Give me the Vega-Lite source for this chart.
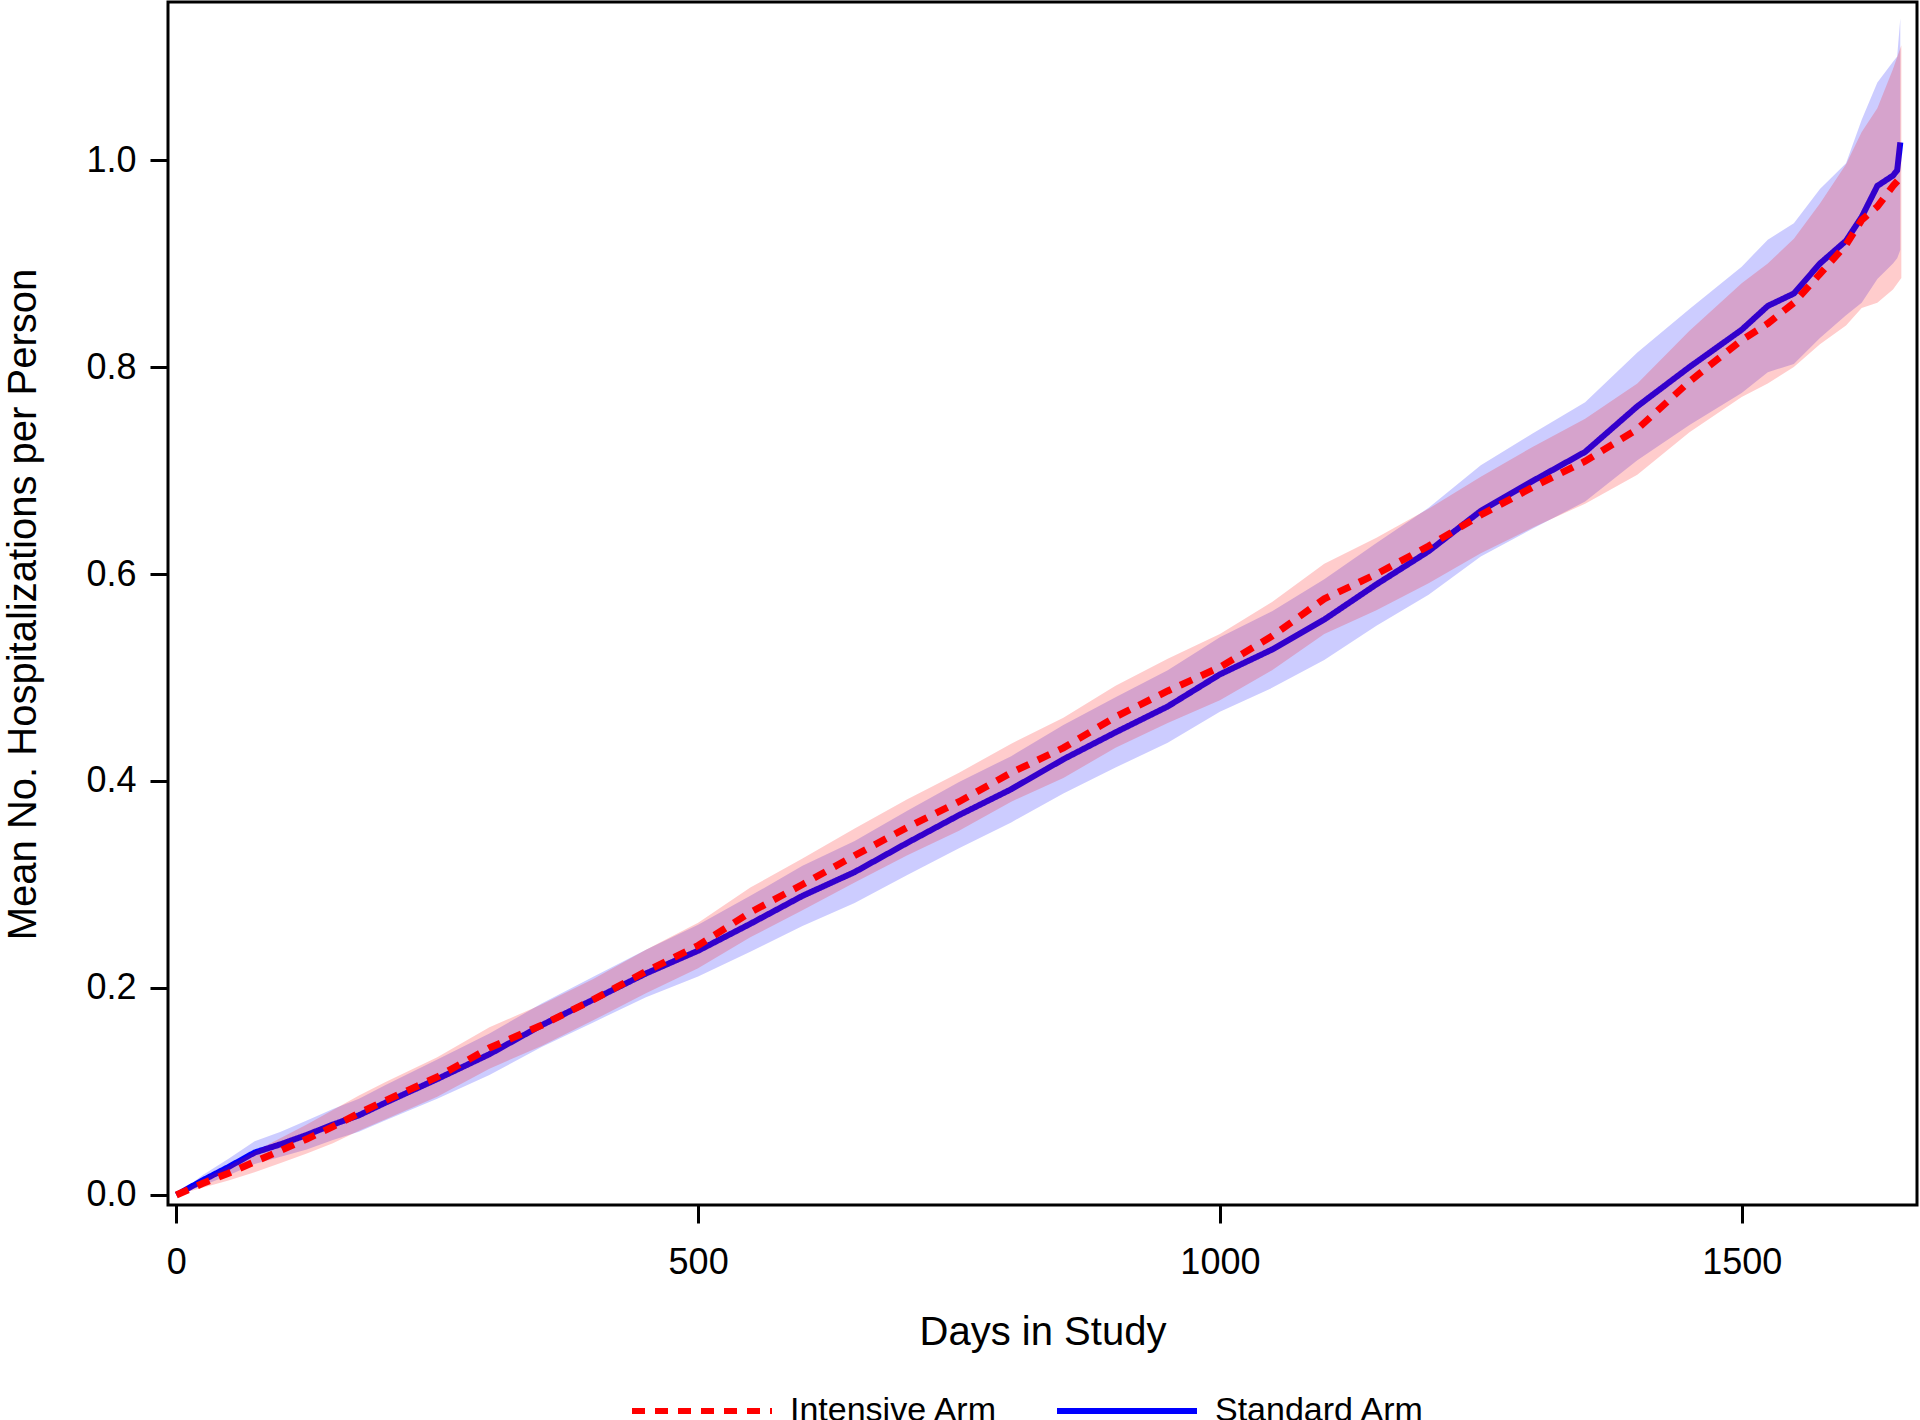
{
  "$schema": "https://vega.github.io/schema/vega-lite/v6.json",
  "width": 1749,
  "height": 1203,
  "autosize": {"type": "none"},
  "padding": {"left": 168, "top": 2, "right": 3, "bottom": 215},
  "background": "white",
  "config": {
    "font": "Liberation Sans",
    "view": {"stroke": "black", "strokeWidth": 3},
    "axis": {"labelFont": "Liberation Sans", "titleFont": "Liberation Sans", "labelColor": "black", "titleColor": "black", "tickColor": "black"},
    "legend": {"labelFont": "Liberation Sans", "labelColor": "black"}
  },
  "data": {"values": [
    {"arm": "Standard Arm", "day": 0, "mean": 0, "lo": 0, "hi": 0},
    {"arm": "Standard Arm", "day": 25, "mean": 0.014, "lo": 0.009, "hi": 0.019},
    {"arm": "Standard Arm", "day": 50, "mean": 0.027, "lo": 0.019, "hi": 0.035},
    {"arm": "Standard Arm", "day": 75, "mean": 0.041, "lo": 0.030, "hi": 0.052},
    {"arm": "Standard Arm", "day": 100, "mean": 0.049, "lo": 0.037, "hi": 0.061},
    {"arm": "Standard Arm", "day": 125, "mean": 0.058, "lo": 0.044, "hi": 0.072},
    {"arm": "Standard Arm", "day": 150, "mean": 0.068, "lo": 0.053, "hi": 0.083},
    {"arm": "Standard Arm", "day": 175, "mean": 0.077, "lo": 0.061, "hi": 0.093},
    {"arm": "Standard Arm", "day": 200, "mean": 0.089, "lo": 0.072, "hi": 0.106},
    {"arm": "Standard Arm", "day": 250, "mean": 0.112, "lo": 0.093, "hi": 0.131},
    {"arm": "Standard Arm", "day": 300, "mean": 0.136, "lo": 0.116, "hi": 0.156},
    {"arm": "Standard Arm", "day": 350, "mean": 0.164, "lo": 0.143, "hi": 0.185},
    {"arm": "Standard Arm", "day": 400, "mean": 0.189, "lo": 0.167, "hi": 0.211},
    {"arm": "Standard Arm", "day": 450, "mean": 0.214, "lo": 0.191, "hi": 0.237},
    {"arm": "Standard Arm", "day": 500, "mean": 0.236, "lo": 0.211, "hi": 0.261},
    {"arm": "Standard Arm", "day": 550, "mean": 0.262, "lo": 0.235, "hi": 0.289},
    {"arm": "Standard Arm", "day": 600, "mean": 0.289, "lo": 0.260, "hi": 0.318},
    {"arm": "Standard Arm", "day": 650, "mean": 0.312, "lo": 0.282, "hi": 0.342},
    {"arm": "Standard Arm", "day": 700, "mean": 0.340, "lo": 0.309, "hi": 0.371},
    {"arm": "Standard Arm", "day": 750, "mean": 0.367, "lo": 0.335, "hi": 0.399},
    {"arm": "Standard Arm", "day": 800, "mean": 0.392, "lo": 0.360, "hi": 0.424},
    {"arm": "Standard Arm", "day": 850, "mean": 0.421, "lo": 0.388, "hi": 0.454},
    {"arm": "Standard Arm", "day": 900, "mean": 0.447, "lo": 0.413, "hi": 0.481},
    {"arm": "Standard Arm", "day": 950, "mean": 0.472, "lo": 0.437, "hi": 0.507},
    {"arm": "Standard Arm", "day": 1000, "mean": 0.503, "lo": 0.467, "hi": 0.539},
    {"arm": "Standard Arm", "day": 1050, "mean": 0.527, "lo": 0.490, "hi": 0.564},
    {"arm": "Standard Arm", "day": 1100, "mean": 0.556, "lo": 0.517, "hi": 0.595},
    {"arm": "Standard Arm", "day": 1150, "mean": 0.590, "lo": 0.550, "hi": 0.630},
    {"arm": "Standard Arm", "day": 1200, "mean": 0.622, "lo": 0.580, "hi": 0.664},
    {"arm": "Standard Arm", "day": 1250, "mean": 0.661, "lo": 0.617, "hi": 0.705},
    {"arm": "Standard Arm", "day": 1300, "mean": 0.690, "lo": 0.644, "hi": 0.736},
    {"arm": "Standard Arm", "day": 1350, "mean": 0.718, "lo": 0.670, "hi": 0.766},
    {"arm": "Standard Arm", "day": 1400, "mean": 0.762, "lo": 0.710, "hi": 0.814},
    {"arm": "Standard Arm", "day": 1450, "mean": 0.800, "lo": 0.744, "hi": 0.856},
    {"arm": "Standard Arm", "day": 1500, "mean": 0.836, "lo": 0.775, "hi": 0.897},
    {"arm": "Standard Arm", "day": 1525, "mean": 0.859, "lo": 0.795, "hi": 0.923},
    {"arm": "Standard Arm", "day": 1550, "mean": 0.871, "lo": 0.803, "hi": 0.939},
    {"arm": "Standard Arm", "day": 1575, "mean": 0.900, "lo": 0.828, "hi": 0.972},
    {"arm": "Standard Arm", "day": 1600, "mean": 0.922, "lo": 0.850, "hi": 0.997},
    {"arm": "Standard Arm", "day": 1615, "mean": 0.945, "lo": 0.862, "hi": 1.039},
    {"arm": "Standard Arm", "day": 1630, "mean": 0.975, "lo": 0.885, "hi": 1.075},
    {"arm": "Standard Arm", "day": 1645, "mean": 0.985, "lo": 0.900, "hi": 1.095},
    {"arm": "Standard Arm", "day": 1649, "mean": 0.990, "lo": 0.905, "hi": 1.100},
    {"arm": "Standard Arm", "day": 1652, "mean": 1.017, "lo": 0.913, "hi": 1.137},
    {"arm": "Intensive Arm", "day": 0, "mean": 0, "lo": 0, "hi": 0},
    {"arm": "Intensive Arm", "day": 25, "mean": 0.011, "lo": 0.007, "hi": 0.015},
    {"arm": "Intensive Arm", "day": 50, "mean": 0.021, "lo": 0.014, "hi": 0.028},
    {"arm": "Intensive Arm", "day": 75, "mean": 0.032, "lo": 0.022, "hi": 0.042},
    {"arm": "Intensive Arm", "day": 100, "mean": 0.043, "lo": 0.031, "hi": 0.055},
    {"arm": "Intensive Arm", "day": 125, "mean": 0.054, "lo": 0.040, "hi": 0.068},
    {"arm": "Intensive Arm", "day": 150, "mean": 0.066, "lo": 0.050, "hi": 0.082},
    {"arm": "Intensive Arm", "day": 175, "mean": 0.079, "lo": 0.062, "hi": 0.096},
    {"arm": "Intensive Arm", "day": 200, "mean": 0.091, "lo": 0.073, "hi": 0.109},
    {"arm": "Intensive Arm", "day": 250, "mean": 0.114, "lo": 0.095, "hi": 0.133},
    {"arm": "Intensive Arm", "day": 300, "mean": 0.142, "lo": 0.122, "hi": 0.162},
    {"arm": "Intensive Arm", "day": 350, "mean": 0.164, "lo": 0.144, "hi": 0.184},
    {"arm": "Intensive Arm", "day": 400, "mean": 0.189, "lo": 0.169, "hi": 0.209},
    {"arm": "Intensive Arm", "day": 450, "mean": 0.216, "lo": 0.195, "hi": 0.237},
    {"arm": "Intensive Arm", "day": 500, "mean": 0.241, "lo": 0.219, "hi": 0.263},
    {"arm": "Intensive Arm", "day": 550, "mean": 0.273, "lo": 0.249, "hi": 0.297},
    {"arm": "Intensive Arm", "day": 600, "mean": 0.300, "lo": 0.275, "hi": 0.325},
    {"arm": "Intensive Arm", "day": 650, "mean": 0.328, "lo": 0.302, "hi": 0.354},
    {"arm": "Intensive Arm", "day": 700, "mean": 0.355, "lo": 0.328, "hi": 0.382},
    {"arm": "Intensive Arm", "day": 750, "mean": 0.380, "lo": 0.352, "hi": 0.408},
    {"arm": "Intensive Arm", "day": 800, "mean": 0.408, "lo": 0.380, "hi": 0.436},
    {"arm": "Intensive Arm", "day": 850, "mean": 0.432, "lo": 0.403, "hi": 0.461},
    {"arm": "Intensive Arm", "day": 900, "mean": 0.462, "lo": 0.432, "hi": 0.492},
    {"arm": "Intensive Arm", "day": 950, "mean": 0.487, "lo": 0.456, "hi": 0.518},
    {"arm": "Intensive Arm", "day": 1000, "mean": 0.510, "lo": 0.478, "hi": 0.542},
    {"arm": "Intensive Arm", "day": 1050, "mean": 0.540, "lo": 0.507, "hi": 0.573},
    {"arm": "Intensive Arm", "day": 1100, "mean": 0.576, "lo": 0.542, "hi": 0.610},
    {"arm": "Intensive Arm", "day": 1150, "mean": 0.600, "lo": 0.565, "hi": 0.635},
    {"arm": "Intensive Arm", "day": 1200, "mean": 0.627, "lo": 0.591, "hi": 0.663},
    {"arm": "Intensive Arm", "day": 1250, "mean": 0.657, "lo": 0.620, "hi": 0.694},
    {"arm": "Intensive Arm", "day": 1300, "mean": 0.684, "lo": 0.645, "hi": 0.723},
    {"arm": "Intensive Arm", "day": 1350, "mean": 0.709, "lo": 0.668, "hi": 0.750},
    {"arm": "Intensive Arm", "day": 1400, "mean": 0.740, "lo": 0.696, "hi": 0.784},
    {"arm": "Intensive Arm", "day": 1450, "mean": 0.786, "lo": 0.737, "hi": 0.835},
    {"arm": "Intensive Arm", "day": 1500, "mean": 0.826, "lo": 0.771, "hi": 0.881},
    {"arm": "Intensive Arm", "day": 1525, "mean": 0.842, "lo": 0.784, "hi": 0.900},
    {"arm": "Intensive Arm", "day": 1550, "mean": 0.862, "lo": 0.800, "hi": 0.924},
    {"arm": "Intensive Arm", "day": 1575, "mean": 0.890, "lo": 0.822, "hi": 0.958},
    {"arm": "Intensive Arm", "day": 1600, "mean": 0.918, "lo": 0.840, "hi": 0.996},
    {"arm": "Intensive Arm", "day": 1615, "mean": 0.942, "lo": 0.857, "hi": 1.027},
    {"arm": "Intensive Arm", "day": 1630, "mean": 0.955, "lo": 0.862, "hi": 1.050},
    {"arm": "Intensive Arm", "day": 1645, "mean": 0.975, "lo": 0.875, "hi": 1.088},
    {"arm": "Intensive Arm", "day": 1653, "mean": 0.984, "lo": 0.886, "hi": 1.111}
  ]},
  "encoding": {
    "x": {
      "field": "day", "type": "quantitative",
      "scale": {"domain": [-8, 1668], "nice": false, "zero": false},
      "axis": {
        "title": "Days in Study", "values": [0, 500, 1000, 1500], "format": "d",
        "domain": false, "grid": false, "tickSize": 18, "tickWidth": 3,
        "labelFontSize": 36, "labelPadding": 22, "labelFlush": false, "labelOverlap": false,
        "titleFontSize": 40, "titleFontWeight": "normal", "titleY": 139, "titleBaseline": "alphabetic"
      }
    }
  },
  "layer": [
    {
      "transform": [{"filter": "datum.arm === 'Standard Arm'"}],
      "mark": {"type": "area", "color": "#0000ff", "opacity": 0.2},
      "encoding": {
        "y": {"field": "lo", "type": "quantitative",
          "scale": {"domain": [-0.0097, 1.1527], "nice": false, "zero": false},
          "axis": {
            "title": "Mean No. Hospitalizations per Person", "values": [0, 0.2, 0.4, 0.6, 0.8, 1.0], "format": ".1f",
            "domain": false, "grid": false, "tickSize": 18, "tickWidth": 3,
            "labelFontSize": 36, "labelPadding": 14, "labelOverlap": false, "labelFlush": false,
            "titleFontSize": 40, "titleFontWeight": "normal", "titleAngle": 270, "titleX": -133, "titleY": 602,
            "titleAlign": "center", "titleBaseline": "alphabetic"
          }
        },
        "y2": {"field": "hi"}
      }
    },
    {
      "transform": [{"filter": "datum.arm === 'Standard Arm'"}],
      "mark": {"type": "line", "strokeWidth": 6, "strokeCap": "butt"},
      "encoding": {
        "y": {"field": "mean", "type": "quantitative"},
        "color": {"field": "arm", "type": "nominal",
          "scale": {"domain": ["Intensive Arm", "Standard Arm"], "range": ["#ff0000", "#0000ff"]},
          "legend": {"title": null, "orient": "none", "legendX": 461, "legendY": 1336, "direction": "horizontal",
            "symbolType": "stroke", "symbolSize": 19600, "symbolStrokeWidth": 6, "labelFontSize": 34,
            "labelOffset": 15, "columnPadding": 47, "labelLimit": 400, "padding": 0}
        },
        "strokeDash": {"field": "arm", "type": "nominal",
          "scale": {"domain": ["Intensive Arm", "Standard Arm"], "range": [[13, 10], [1, 0]]},
          "legend": {"title": null, "orient": "none", "legendX": 461, "legendY": 1336, "direction": "horizontal",
            "symbolType": "stroke", "symbolSize": 19600, "symbolStrokeWidth": 6, "labelFontSize": 34,
            "labelOffset": 15, "columnPadding": 47, "labelLimit": 400, "padding": 0}
        }
      }
    },
    {
      "transform": [{"filter": "datum.arm === 'Intensive Arm'"}],
      "mark": {"type": "area", "color": "#ff0000", "opacity": 0.2},
      "encoding": {
        "y": {"field": "lo", "type": "quantitative"},
        "y2": {"field": "hi"}
      }
    },
    {
      "transform": [{"filter": "datum.arm === 'Intensive Arm'"}],
      "mark": {"type": "line", "strokeWidth": 7, "strokeCap": "butt"},
      "encoding": {
        "y": {"field": "mean", "type": "quantitative"},
        "color": {"field": "arm", "type": "nominal"},
        "strokeDash": {"field": "arm", "type": "nominal"}
      }
    }
  ]
}
